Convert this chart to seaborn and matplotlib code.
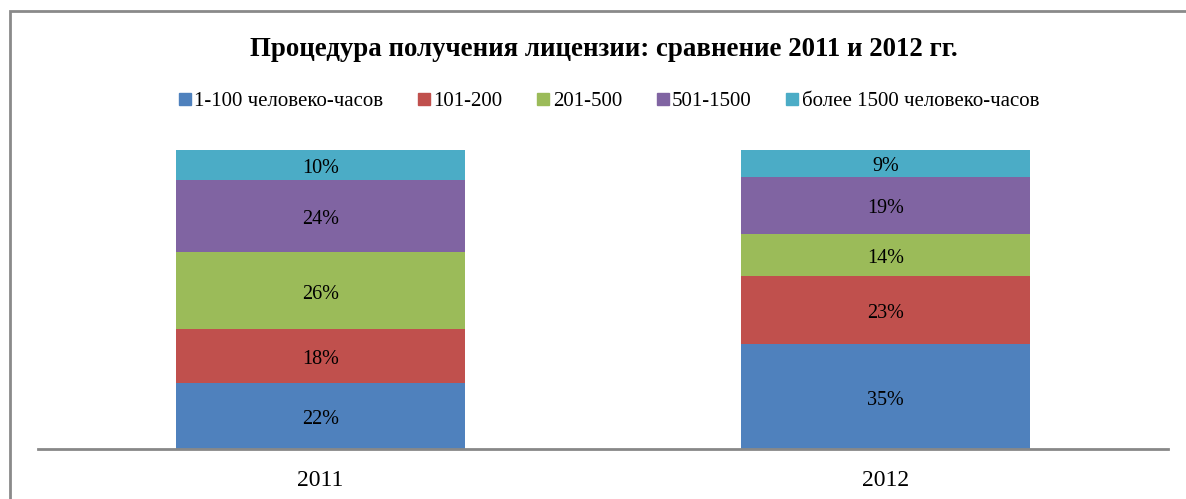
import matplotlib
matplotlib.use("Agg")
import matplotlib.pyplot as plt
import matplotlib.patches as mpatches
import matplotlib.transforms as mtransforms
import seaborn as sns
import pandas as pd
import numpy as np

years = ["2011", "2012"]
series_names = ["1-100 человеко-часов", "101-200", "201-500", "501-1500", "более 1500 человеко-часов"]
s_1_100 = [22, 35]
s_101_200 = [18, 23]
s_201_500 = [26, 14]
s_501_1500 = [24, 19]
s_1500_plus = [10, 9]
colors = ["#4F81BD", "#C0504D", "#9BBB59", "#8064A2", "#4BACC6"]

sns.set_theme(style="white")
plt.rcParams['font.family'] = ['Liberation Serif', 'DejaVu Serif']
plt.rcParams['text.color'] = 'black'
plt.rcParams['xtick.color'] = 'black'

fig = plt.figure(figsize=(11.86, 4.99), dpi=100)
ax = fig.add_axes([38/1186, 50/499, 1130/1186, 299/499])
lab_tr = mtransforms.offset_copy(ax.transData, fig=fig, x=0, y=-2.5, units="points")

all_series = [s_1_100, s_101_200, s_201_500, s_501_1500, s_1500_plus]
bottoms = np.zeros(len(years))
for name, vals, col in zip(series_names, all_series, colors):
    df = pd.DataFrame({"year": years, "value": vals})
    sns.barplot(data=df, x="year", y="value", color=col, bottom=bottoms,
                width=0.513, ax=ax, linewidth=0, saturation=1, label=name)
    for i, v in enumerate(vals):
        ax.text(i, bottoms[i] + v / 2, f"{v}%", ha="center", va="center",
                fontsize=14.5, color="black", transform=lab_tr)
    bottoms = bottoms + np.array(vals)

ax.set_xlim(-0.5, 1.5)
ax.set_ylim(0, 100)
ax.set_xlabel("")
ax.set_ylabel("")
ax.set_yticks([])
ax.tick_params(axis="x", length=0, labelsize=17, pad=15, colors="black")
for s in ["top", "left", "right"]:
    ax.spines[s].set_visible(False)
ax.spines["bottom"].set_color("#888888")
ax.spines["bottom"].set_linewidth(2)
if ax.legend_:
    ax.legend_.remove()

handles = [plt.Line2D([], [], marker="s", linestyle="", markersize=9,
                      markerfacecolor=c, markeredgecolor=c) for c in colors]
fig.legend(handles, series_names, loc="center", bbox_to_anchor=(608/1186, 1 - 101/499),
           ncol=5, frameon=False, fontsize=15, handletextpad=0.05, columnspacing=1.55,
           handlelength=0.8)

fig.text(604/1186, 1 - 49/499, "Процедура получения лицензии: сравнение 2011 и 2012 гг.",
         ha="center", va="center", fontsize=19.4, fontweight="bold")

border = mpatches.Rectangle((9.5/1186, -0.2), 1.3, 1.2 - 10.5/499,
                            transform=fig.transFigure, fill=False,
                            edgecolor="#8a8a8a", linewidth=2)
fig.add_artist(border)

fig.savefig("out.png", dpi=100)
